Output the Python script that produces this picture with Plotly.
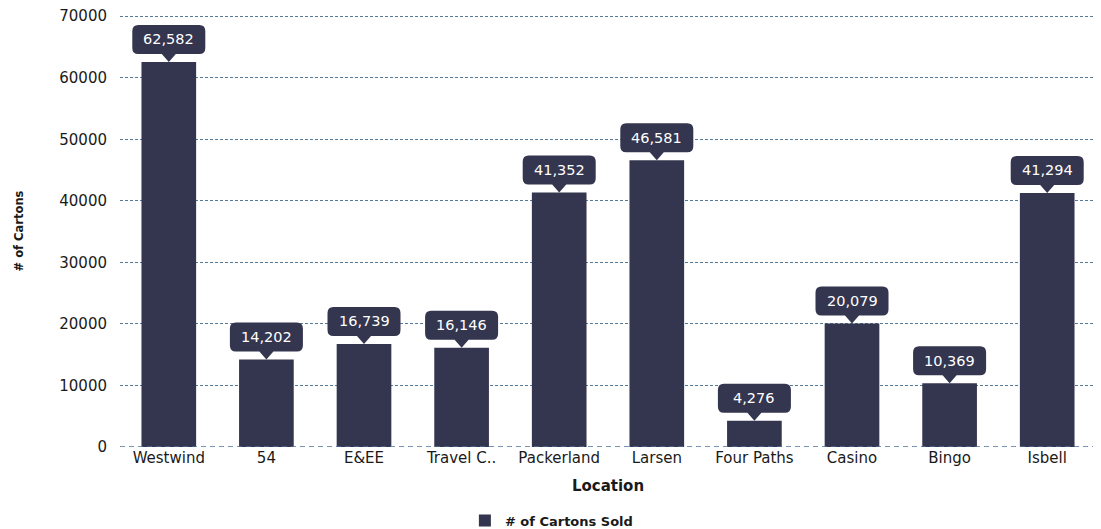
import plotly.graph_objects as go

locations = ['Westwind', '54', 'E&EE', 'Travel C..', 'Packerland', 'Larsen',
             'Four Paths', 'Casino', 'Bingo', 'Isbell']
cartons = [62582, 14202, 16739, 16146, 41352, 46581, 4276, 20079, 10369, 41294]
y_ticks = [0, 10000, 20000, 30000, 40000, 50000, 60000, 70000]

bar_color = '#34354e'
font = 'DejaVu Sans, Liberation Sans, Arial, sans-serif'

fig = go.Figure()
fig.add_trace(go.Bar(x=locations, y=cartons, name='# of Cartons Sold',
                     marker=dict(color=bar_color, line=dict(width=0))))

# callout box with pointer, drawn in pixels relative to each bar top
w, h, r, tip, pw = 36.5, 14.5, 6, 8, 7
callout = (f'M 0 0 L {-pw} {tip} L {-w + r} {tip} Q {-w} {tip} {-w} {tip + r} '
           f'L {-w} {tip + 2*h - r} Q {-w} {tip + 2*h} {-w + r} {tip + 2*h} '
           f'L {w - r} {tip + 2*h} Q {w} {tip + 2*h} {w} {tip + 2*h - r} '
           f'L {w} {tip + r} Q {w} {tip} {w - r} {tip} L {pw} {tip} Z')
for i, val in enumerate(cartons):
    fig.add_shape(type='path', xref='x', yref='y', xsizemode='pixel', ysizemode='pixel',
                  xanchor=i, yanchor=val, path=callout,
                  fillcolor=bar_color, line=dict(width=0), layer='above')
    fig.add_annotation(x=i, y=val, text=f'{val:,}', showarrow=False,
                       yshift=tip + h, font=dict(color='white', size=14.5, family=font))

# page body has an 8px margin, so the figure is a bit smaller than the window
fig.update_layout(
    width=1093, height=521,
    margin=dict(l=112, r=5, t=7, b=82, autoexpand=False),
    plot_bgcolor='white', paper_bgcolor='white',
    font=dict(family=font, color='#1a1a1a'),
    bargap=0.44,
    showlegend=True,
    legend=dict(orientation='h', x=0.442, xanchor='center',
                yref='container', y=0.016, yanchor='middle',
                font=dict(size=13, weight='bold')),
)
fig.update_xaxes(type='category', range=[-0.5, len(locations) - 0.5], tickangle=0,
                 title=dict(text='Location', font=dict(size=15, weight='bold'), standoff=14),
                 tickfont=dict(size=15), showgrid=False, showline=False, ticks='', ticklen=0)
fig.update_yaxes(title=dict(text='# of Cartons', font=dict(size=11.5, weight='bold'), standoff=33),
                 tickvals=y_ticks, tickformat='d', range=[0, 70200],
                 tickfont=dict(size=15), ticklabelstandoff=12, ticklabeloverflow='allow',
                 showgrid=True, gridcolor='#557a99', griddash='3px,2px', gridwidth=1,
                 zeroline=False, ticks='', ticklen=0, showline=False)
fig.add_hline(y=0, line=dict(color='#4a7099', dash='5px,4px', width=1.5), layer='above')

fig.write_html('out.html')
